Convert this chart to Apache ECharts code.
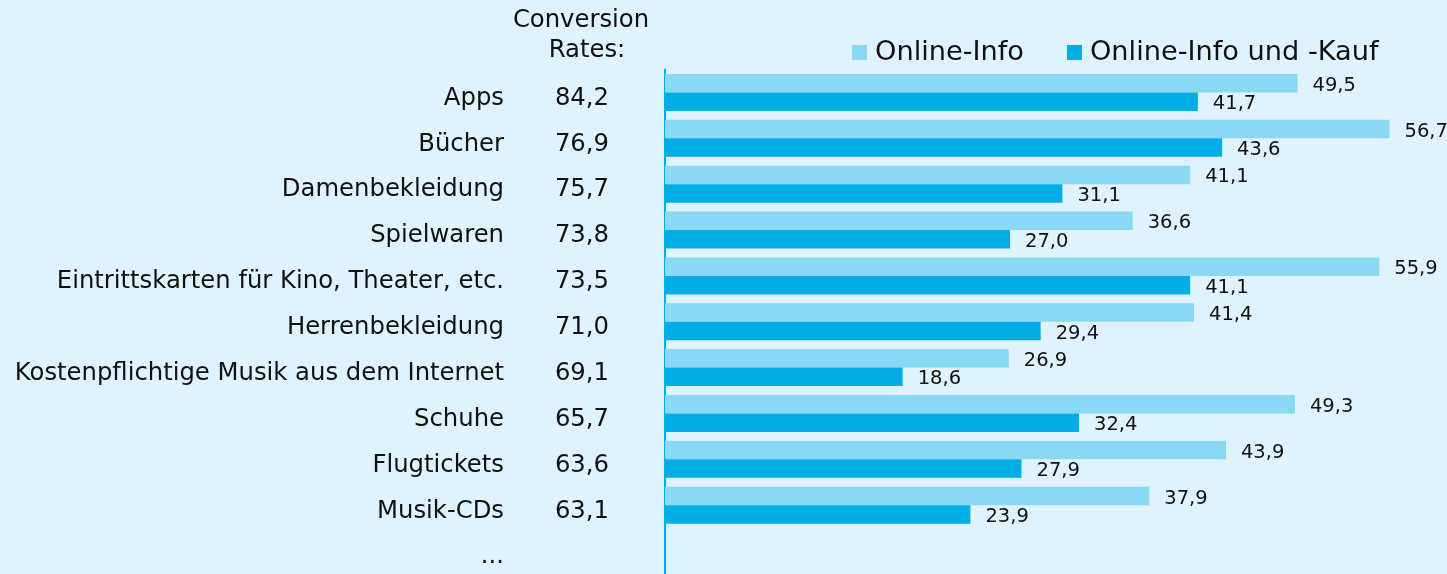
<!DOCTYPE html>
<html>
<head>
<meta charset="utf-8">
<script src="https://cdn.jsdelivr.net/npm/echarts@6/dist/echarts.min.js"></script>
<style>
 html, body { margin:0; padding:0; background:#dff2fd; }
 #chart { width:1447px; height:574px; }
</style>
</head>
<body>
<div id="chart"></div>
<script>
// categories, top to bottom
var categories = ['Apps', 'Bücher', 'Damenbekleidung', 'Spielwaren',
    'Eintrittskarten für Kino, Theater, etc.', 'Herrenbekleidung',
    'Kostenpflichtige Musik aus dem Internet', 'Schuhe', 'Flugtickets',
    'Musik-CDs', '...'];
var conversionRates = ['84,2', '76,9', '75,7', '73,8', '73,5', '71,0',
    '69,1', '65,7', '63,6', '63,1', ''];
var onlineInfo = [49.5, 56.7, 41.1, 36.6, 55.9, 41.4, 26.9, 49.3, 43.9, 37.9, null];
var onlineInfoKauf = [41.7, 43.6, 31.1, 27.0, 41.1, 29.4, 18.6, 32.4, 27.9, 23.9, null];
var seriesNames = ['Online-Info', 'Online-Info und -Kauf'];

window.onload = function(){
 var chart = echarts.init(document.getElementById('chart'));

 function fmt(p){
     if (p.value == null) return '';
     return p.value.toFixed(1).replace('.', ',');
 }

 var labelStyle = {
     show: true,
     position: 'right',
     distance: 15,
     offset: [0, 2.5],
     fontSize: 19.5,
     fontFamily: 'DejaVu Sans',
     color: '#111',
     formatter: fmt
 };

 var option = {
    backgroundColor: '#dff2fd',
    textStyle: { fontFamily: 'DejaVu Sans' },
    color: ['#89d8f4', '#00aee5'],
    graphic: [
        { type: 'text', x: 581, y: 21,
          style: { text: 'Conversion', textAlign: 'center', textVerticalAlign: 'middle',
                   font: '24.3px DejaVu Sans', fill: '#111' } },
        { type: 'text', x: 587, y: 51,
          style: { text: 'Rates:', textAlign: 'center', textVerticalAlign: 'middle',
                   font: '24.3px DejaVu Sans', fill: '#111' } }
    ],
    legend: {
        data: seriesNames,
        left: 847,
        top: 34,
        icon: 'rect',
        itemWidth: 15,
        itemHeight: 15,
        itemGap: 43,
        textStyle: { fontSize: 27.2, color: '#111', fontFamily: 'DejaVu Sans', padding: [0, 0, 2, 3] }
    },
    grid: {
        left: 665,
        right: 0,
        top: 69.5,
        height: 506
    },
    xAxis: {
        type: 'value',
        min: 0,
        max: 61.2,
        show: false
    },
    yAxis: [
    {
        type: 'category',
        inverse: true,
        data: categories,
        axisLine: { show: true, lineStyle: { color: '#00aee5', width: 2 } },
        axisTick: { show: false },
        axisLabel: {
            margin: 161,
            fontSize: 24.3,
            color: '#111',
            verticalAlign: 'top',
            lineHeight: 12
        }
    },
    {
        type: 'category',
        position: 'left',
        inverse: true,
        data: conversionRates,
        axisLine: { show: false },
        axisTick: { show: false },
        axisLabel: {
            margin: 56,
            fontSize: 24.3,
            color: '#111',
            verticalAlign: 'top',
            lineHeight: 12
        }
    }
    ],
    series: [
    {
        name: seriesNames[0],
        type: 'bar',
        barWidth: 18.5,
        barGap: '0%',
        data: onlineInfo,
        label: labelStyle
    },
    {
        name: seriesNames[1],
        type: 'bar',
        barWidth: 18.5,
        barGap: '0%',
        data: onlineInfoKauf,
        label: labelStyle
    }
    ]
 };
 chart.setOption(option);
};
</script>
</body>
</html>
